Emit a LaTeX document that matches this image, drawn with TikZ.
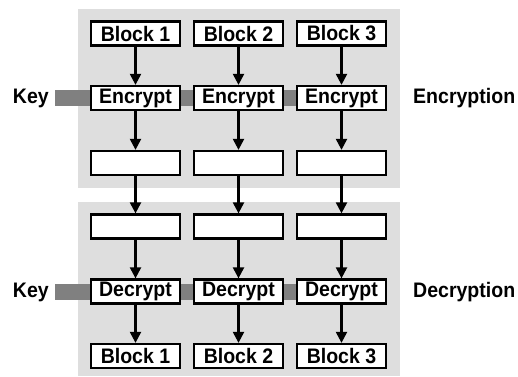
\documentclass[tikz,border=0pt]{standalone}
\usepackage{fontspec}
\setmainfont[FakeStretch=0.93]{Liberation Sans}
\usetikzlibrary{arrows.meta}
\definecolor{panelgray}{HTML}{DEDEDE}
\definecolor{bargray}{HTML}{808080}
\begin{document}
\begin{tikzpicture}[x=1pt,y=-1pt,
  font=\fontsize{21}{23}\selectfont\bfseries,
  blk/.style={draw=black, line width=2.3pt, fill=white, minimum width=89pt,
    minimum height=24pt, inner sep=0pt},
  flow/.style={line width=2.2pt, -{Triangle[width=11pt,length=11pt]}},
  keybar/.style={bargray, line width=16pt},
  lbl/.style={inner sep=0pt}]
\useasboundingbox (0,0) rectangle (518,376);

% shaded panels
\fill[panelgray] (78,9) rectangle (400,188);
\fill[panelgray] (78,202) rectangle (400,376);

% side labels
\node[lbl, anchor=east] (key1) at (49,98) {Key};
\node[lbl, anchor=east] (key2) at (49,292) {Key};
\node[lbl, anchor=west] (enc) at (413,98) {Encryption};
\node[lbl, anchor=west] (dec) at (413,292) {Decryption};

% three columns of blocks
\foreach \i/\x in {1/135.5, 2/238.5, 3/341.5}{
  \node[blk] (p\i) at (\x,33.5) {Block \i};
  \node[blk] (e\i) at (\x,98) {Encrypt};
  \node[blk] (c\i) at (\x,163) {};
  \node[blk] (d\i) at (\x,226.5) {};
  \node[blk] (x\i) at (\x,291.5) {Decrypt};
  \node[blk] (q\i) at (\x,356) {Block \i};
}

% key bars
\coordinate (k1) at (55,98);
\coordinate (k2) at (55,292);
\draw[keybar] (k1) -- (e1.west);
\draw[keybar] (e1.east) -- (e2.west);
\draw[keybar] (e2.east) -- (e3.west);
\draw[keybar] (k2) -- (x1.west |- k2);
\draw[keybar] (x1.east |- k2) -- (x2.west |- k2);
\draw[keybar] (x2.east |- k2) -- (x3.west |- k2);

% flow arrows
\foreach \i in {1,2,3}{
  \draw[flow] (p\i) -- (e\i);
  \draw[flow] (e\i) -- (c\i);
  \draw[flow] (c\i) -- (d\i);
  \draw[flow] (d\i) -- (x\i);
  \draw[flow] (x\i) -- (q\i);
}
\end{tikzpicture}
\end{document}
